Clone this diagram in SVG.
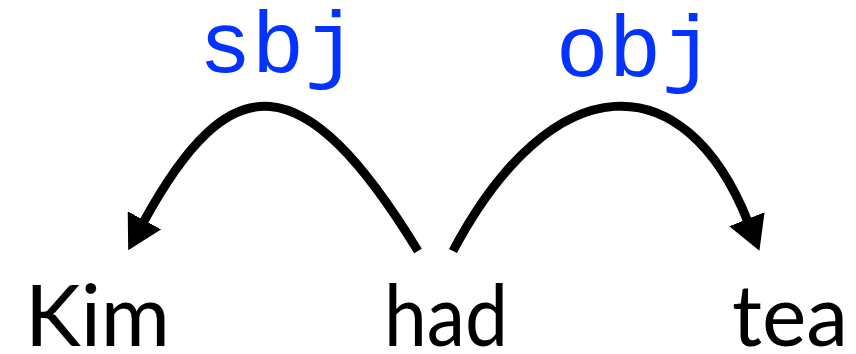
<svg xmlns="http://www.w3.org/2000/svg" width="856" height="354" viewBox="0 0 856 354">
<style>
.word{font-family:Lato,"Liberation Sans",sans-serif;font-size:86px;fill:#000}
.lab{font-family:"Liberation Mono","DejaVu Sans Mono",monospace;font-size:88px;fill:#0433ff;text-anchor:middle}
.arc{fill:none;stroke:#000;stroke-width:9}
</style>
<defs>
<marker id="ah" markerUnits="userSpaceOnUse" viewBox="0 0 34 38" markerWidth="34" markerHeight="38" refX="3" refY="19" orient="auto">
<path d="M0,0 L34,19 L0,38 z" fill="#000"/>
</marker>
</defs>
<g id="edges">
<g id="e-sbj">
<path class="arc" d="M418,251 C303,63 230,63 143,223" marker-end="url(#ah)"/>
<text class="lab" x="278" y="72">sbj</text>
</g>
<g id="e-obj">
<path class="arc" d="M453,251 C553,63 685,63 748,222" marker-end="url(#ah)"/>
<text class="lab" x="635" y="76">obj</text>
</g>
</g>
<g id="n-kim"><text class="word" x="25" y="346" textLength="145" lengthAdjust="spacingAndGlyphs">Kim</text></g>
<g id="n-had"><text class="word" x="384" y="346" textLength="124" lengthAdjust="spacingAndGlyphs">had</text></g>
<g id="n-tea"><text class="word" x="732" y="346" textLength="116" lengthAdjust="spacingAndGlyphs">tea</text></g>
</svg>
